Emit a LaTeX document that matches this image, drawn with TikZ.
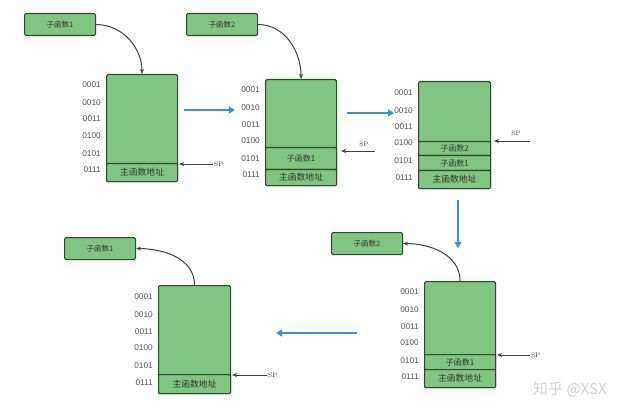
\documentclass[tikz,border=0pt]{standalone}
\usepackage{fontspec}
\newfontfamily\cjk{Noto Sans CJK SC}
\newfontfamily\lsans{Liberation Sans}
\usetikzlibrary{arrows.meta}
\definecolor{gr}{HTML}{80C582}
\definecolor{bd}{HTML}{2E4A2E}
\definecolor{bl}{HTML}{3A90D6}
\definecolor{lab}{HTML}{555555}
\tikzset{
  stackbox/.style={draw=bd, fill=gr, line width=1.1pt, rounded corners=1.5pt, anchor=north west, inner sep=0pt},
  cellbox/.style={draw=bd, fill=gr, line width=1.1pt, rounded corners=1pt, anchor=north west, inner sep=0pt, font=\cjk\fontsize{8}{9}\selectfont, text=black!80},
  mainbox/.style={cellbox, font=\cjk\fontsize{8.8}{9}\selectfont},
  fbox/.style={draw=bd, fill=gr, line width=1.1pt, rounded corners=2pt, minimum width=71pt, minimum height=22pt, anchor=north west, inner sep=0pt, font=\cjk\fontsize{7.5}{8}\selectfont, text=black!80},
  addr/.style={anchor=east, inner sep=0pt, font=\lsans\fontsize{8.3}{9}\selectfont, text=lab},
  sptext/.style={anchor=west, inner sep=1pt, font=\fontsize{6.5}{7}\selectfont, text=black!80},
  ptr/.style={draw=black!75, line width=0.8pt, -{Stealth[length=5pt,width=4pt]}},
  curv/.style={draw=black!75, line width=1pt, -{Stealth[length=5pt,width=4pt]}},
  bigarrow/.style={draw=bl, line width=2.4pt, -{Triangle[length=6pt,width=7pt]}}
}
\begin{document}
\begin{tikzpicture}[x=1pt,y=-1pt]
\useasboundingbox (0,0) rectangle (640,417);
\fill[white] (0,0) rectangle (640,417);

% ---------- stack 1 ----------
\node[fbox] (f1) at (24,13) {子函数1};
\node[stackbox, minimum width=71pt, minimum height=107pt] (s1) at (106,74) {};
\node[mainbox, minimum width=71pt, minimum height=18pt] (s1c1) at (106,163) {主函数地址};
\node[addr] (s1a1) at (101,85) {0001};
\node[addr] (s1a2) at (101,103) {0010};
\node[addr] (s1a3) at (101,119) {0011};
\node[addr] (s1a4) at (101,136) {0100};
\node[addr] (s1a5) at (101,154) {0101};
\node[addr] (s1a6) at (101,170) {0111};
\coordinate (s1sp) at (213,164);
\node[sptext] (s1spl) at (s1sp) {SP};
\draw[ptr] (s1sp) -- ([xshift=1pt]s1sp -| s1.east);
\draw[curv] (f1.east) to[out=0, in=90] (s1.north);

% ---------- stack 2 ----------
\node[fbox] (f2) at (186,13) {子函数2};
\node[stackbox, minimum width=71pt, minimum height=106pt] (s2) at (265,79) {};
\node[cellbox, minimum width=71pt, minimum height=22pt] (s2c2) at (265,147) {子函数1};
\node[mainbox, minimum width=71pt, minimum height=16pt] (s2c1) at (265,169) {主函数地址};
\node[addr] (s2a1) at (260,90) {0001};
\node[addr] (s2a2) at (260,108) {0010};
\node[addr] (s2a3) at (260,125) {0011};
\node[addr] (s2a4) at (260,141) {0100};
\node[addr] (s2a5) at (260,159) {0101};
\node[addr] (s2a6) at (260,175) {0111};
\coordinate (s2sp) at (375,151);
\node[sptext, anchor=south] (s2spl) at (364,148) {SP};
\draw[ptr] (s2sp) -- ([xshift=4pt]s2sp -| s2.east);
\draw[curv] (f2.east) to[out=0, in=90] (s2.north);

% ---------- stack 3 ----------
\node[stackbox, minimum width=72pt, minimum height=107pt] (s3) at (418,81) {};
\node[cellbox, minimum width=72pt, minimum height=14pt] (s3c3) at (418,141) {子函数2};
\node[cellbox, minimum width=72pt, minimum height=15pt] (s3c2) at (418,155) {子函数1};
\node[mainbox, minimum width=72pt, minimum height=18pt] (s3c1) at (418,170) {主函数地址};
\node[addr] (s3a1) at (413,93) {0001};
\node[addr] (s3a2) at (413,111) {0010};
\node[addr] (s3a3) at (413,127) {0011};
\node[addr] (s3a4) at (413,143) {0100};
\node[addr] (s3a5) at (413,161) {0101};
\node[addr] (s3a6) at (413,178) {0111};
\coordinate (s3sp) at (530,141);
\node[sptext, anchor=south] (s3spl) at (516,137) {SP};
\draw[ptr] (s3sp) -- ([xshift=3pt]s3sp -| s3.east);

% ---------- stack 4 ----------
\node[fbox] (f4) at (331,232) {子函数2};
\node[stackbox, minimum width=71pt, minimum height=106pt] (s4) at (424,281) {};
\node[cellbox, minimum width=71pt, minimum height=15pt] (s4c2) at (424,354) {子函数1};
\node[mainbox, minimum width=71pt, minimum height=18pt] (s4c1) at (424,369) {主函数地址};
\node[addr] (s4a1) at (419,292) {0001};
\node[addr] (s4a2) at (419,310) {0010};
\node[addr] (s4a3) at (419,327) {0011};
\node[addr] (s4a4) at (419,343) {0100};
\node[addr] (s4a5) at (419,361) {0101};
\node[addr] (s4a6) at (419,377) {0111};
\coordinate (s4sp) at (530,355);
\node[sptext] (s4spl) at (s4sp) {SP};
\draw[ptr] (s4sp) -- ([xshift=1pt]s4sp -| s4.east);
\draw[curv] (s4.north) to[out=90, in=0] (f4.east);

% ---------- stack 5 ----------
\node[fbox] (f5) at (64,237) {子函数1};
\node[stackbox, minimum width=72pt, minimum height=108pt] (s5) at (158,285) {};
\node[mainbox, minimum width=72pt, minimum height=19pt] (s5c1) at (158,374) {主函数地址};
\node[addr] (s5a1) at (153,297) {0001};
\node[addr] (s5a2) at (153,315) {0010};
\node[addr] (s5a3) at (153,332) {0011};
\node[addr] (s5a4) at (153,348) {0100};
\node[addr] (s5a5) at (153,366) {0101};
\node[addr] (s5a6) at (153,383) {0111};
\coordinate (s5sp) at (267,375);
\node[sptext] (s5spl) at (s5sp) {SP};
\draw[ptr] (s5sp) -- ([xshift=1pt]s5sp -| s5.east);
\draw[curv] (s5.north) to[out=90, in=0] (f5.east);

% ---------- blue transition arrows ----------
\coordinate (b1s) at (184,110);
\coordinate (b1e) at (235,110);
\draw[bigarrow] (b1s) -- (b1e);
\coordinate (b2s) at (347,113);
\coordinate (b2e) at (394,113);
\draw[bigarrow] (b2s) -- (b2e);
\coordinate (b3s) at (458,200);
\coordinate (b3e) at (458,248);
\draw[bigarrow] (b3s) -- (b3e);
\coordinate (b4s) at (357,333);
\coordinate (b4e) at (276,333);
\draw[bigarrow] (b4s) -- (b4e);

% ---------- watermark ----------
\node[anchor=west, inner sep=0pt, text=black!18, font=\cjk\fontsize{15}{16}\selectfont] (wm) at (533,389) {知乎 @XSX};
\end{tikzpicture}
\end{document}
